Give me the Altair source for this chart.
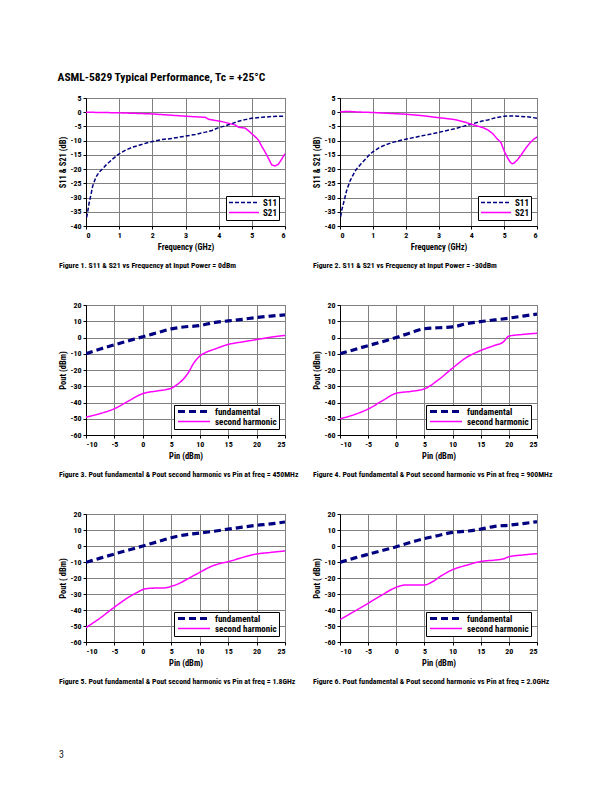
import altair as alt
import pandas as pd

FONT = "Roboto Condensed, Open Sans Condensed, sans-serif"
NAVY = "#000080"
MAGENTA = "#FF00FF"

PAGE_TITLE = "ASML-5829 Typical Performance, Tc = +25\u00b0C"
PAGE_NUMBER = ["3"]

# ---------------- Figure 1: S11 & S21 vs Frequency, Input Power = 0dBm ----------------
fig1_s11_freq = [0.02, 0.05, 0.1, 0.15, 0.2, 0.3, 0.4, 0.5, 0.6, 0.8, 1.0, 1.2, 1.4, 1.6, 1.8,
                 2.0, 2.3, 2.6, 3.0, 3.3, 3.6, 3.8, 4.0, 4.2, 4.4, 4.6, 4.8, 5.0, 5.3, 5.6, 6.0]
fig1_s11 = [-37.0, -35.0, -31.5, -29.0, -26.0, -22.8, -21.0, -19.9, -18.6, -16.5, -14.6, -13.3,
            -12.3, -11.6, -10.9, -10.3, -9.6, -9.2, -8.4, -7.8, -7.0, -6.4, -5.4, -4.8, -4.0,
            -3.2, -2.6, -2.1, -1.8, -1.5, -1.4]
fig1_s21_freq = [0.0, 0.5, 1.0, 1.5, 2.0, 2.5, 3.0, 3.3, 3.6, 3.7, 3.9, 4.1, 4.3, 4.5, 4.6, 4.8,
                 4.9, 5.0, 5.1, 5.2, 5.3, 5.4, 5.5, 5.6, 5.7, 5.8, 5.9, 6.0]
fig1_s21 = [0.0, -0.1, -0.2, -0.4, -0.6, -1.0, -1.4, -1.6, -1.8, -2.5, -2.9, -3.3, -3.9, -4.5,
            -5.3, -5.6, -6.5, -7.6, -8.6, -9.8, -12.0, -14.0, -16.2, -18.5, -18.9, -18.3, -16.5, -14.6]

# ---------------- Figure 2: S11 & S21 vs Frequency, Input Power = -30dBm ----------------
fig2_s11_freq = [0.02, 0.05, 0.1, 0.15, 0.2, 0.3, 0.4, 0.5, 0.65, 0.8, 0.9, 1.0, 1.2, 1.4, 1.6,
                 1.8, 2.0, 2.5, 3.0, 3.5, 4.0, 4.3, 4.5, 4.75, 5.0, 5.2, 5.4, 5.7, 6.0]
fig2_s11 = [-36.7, -34.5, -32.3, -30.0, -27.6, -24.3, -22.0, -20.0, -18.0, -16.2, -14.9, -13.9,
            -12.4, -11.4, -10.6, -10.0, -9.5, -8.3, -7.1, -5.8, -4.2, -3.2, -2.7, -1.9, -1.4,
            -1.3, -1.4, -1.6, -2.1]
fig2_s21_freq = [0.0, 0.2, 0.5, 1.0, 1.5, 2.0, 2.5, 3.0, 3.3, 3.5, 3.75, 4.0, 4.2, 4.35, 4.5,
                 4.65, 4.8, 4.9, 5.0, 5.1, 5.2, 5.25, 5.3, 5.4, 5.5, 5.6, 5.7, 5.8, 5.9, 6.0]
fig2_s21 = [0.1, 0.3, 0.1, -0.1, -0.4, -0.7, -1.2, -1.9, -2.3, -2.6, -3.3, -4.2, -4.9, -5.4,
            -6.2, -7.5, -9.5, -10.6, -13.6, -16.0, -17.8, -18.1, -17.9, -16.8, -15.3, -13.6,
            -12.0, -10.6, -9.5, -8.7]

# ---------------- Figures 3-6: Pout vs Pin ----------------
pin_fund = [-10, -7.5, -5, -2.5, 0, 2.5, 5, 7.5, 10, 12.5, 15, 17.5, 20, 22.5, 25]

fig3_fund = [-10.0, -7.1, -4.5, -2.0, 0.5, 2.9, 5.3, 6.6, 7.3, 9.2, 10.2, 11.2, 12.3, 13.2, 13.9]
fig3_harm_pin = [-10, -7.5, -5, -2.5, 0, 2.5, 5, 6, 7, 8, 9, 10, 11, 12.5, 15, 17.5, 20, 22.5, 25]
fig3_harm = [-49.0, -46.8, -43.8, -39.0, -34.5, -32.9, -31.2, -29.0, -26.1, -21.6, -15.5, -11.5,
             -9.3, -7.3, -4.3, -2.7, -1.3, 0.2, 1.3]

fig4_fund = [-10.0, -7.5, -5.0, -2.6, 0.0, 2.9, 5.4, 6.0, 6.5, 8.5, 9.8, 10.8, 11.9, 13.2, 14.4]
fig4_harm_pin = [-10, -7.5, -5, -2.5, 0, 2.5, 5, 7.5, 10, 12.5, 15, 17.5, 19, 20, 22.5, 25]
fig4_harm = [-50.0, -47.5, -44.0, -39.0, -34.3, -33.2, -31.6, -26.0, -18.8, -12.2, -8.0, -4.8,
             -2.8, 0.8, 1.9, 2.6]

fig5_fund = [-10.2, -7.6, -5.0, -2.5, 0.0, 2.6, 5.2, 7.0, 8.1, 9.2, 10.5, 11.8, 12.9, 13.8, 15.0]
fig5_harm_pin = [-10, -7.5, -5, -2.5, -1, 0, 1, 2.5, 3.5, 5, 6.5, 8, 10, 12, 13.5, 15, 17.5,
                 20, 22.5, 25]
fig5_harm = [-51.0, -45.0, -38.2, -32.0, -29.0, -27.2, -26.5, -26.3, -26.3, -25.2, -23.2, -20.3,
             -16.5, -12.8, -11.0, -9.8, -7.2, -5.0, -4.0, -3.1]

fig6_fund = [-10.2, -7.6, -5.2, -2.8, -0.5, 2.2, 4.6, 6.6, 8.5, 9.3, 10.5, 12.3, 13.0, 14.0, 15.2]
fig6_harm_pin = [-10, -7.5, -5, -2.5, 0, 1.5, 3, 5, 6.5, 8, 10, 12.5, 15, 17.5, 19, 20, 22.5, 25]
fig6_harm = [-46.0, -41.0, -35.8, -30.5, -25.8, -24.4, -24.3, -24.3, -22.2, -18.6, -14.8, -12.0,
             -9.7, -8.8, -8.1, -6.7, -5.6, -4.8]

captions = [
    "Figure 1. S11 & S21 vs Frequency at Input Power = 0dBm",
    "Figure 2. S11 & S21 vs Frequency at Input Power = -30dBm",
    "Figure 3. Pout fundamental & Pout second harmonic vs Pin at freq = 450MHz",
    "Figure 4. Pout fundamental & Pout second harmonic vs Pin at freq = 900MHz",
    "Figure 5. Pout fundamental & Pout second harmonic vs Pin at freq = 1.8GHz",
    "Figure 6. Pout fundamental & Pout second harmonic vs Pin at freq = 2.0GHz",
]


def long_df(x1, y1, n1, x2, y2, n2):
    return pd.DataFrame({
        "x": list(x1) + list(x2),
        "y": list(y1) + list(y2),
        "series": [n1] * len(x1) + [n2] * len(x2),
    })


def panel(df, kind, caption, ytitle, width, height):
    if kind == "s":
        xdom, xvals, xtitle = [0, 6], list(range(0, 7)), "Frequency (GHz)"
        ydom, yvals = [-40, 5], list(range(-40, 6, 5))
        names = ["S11", "S21"]
        dashes = [[4, 2], [1, 0]]
        widths = [1.5, 1.5]
        interp = "linear"
        sym = 900
    else:
        xdom, xvals, xtitle = [-10, 25], list(range(-10, 26, 5)), "Pin (dBm)"
        ydom, yvals = [-60, 20], list(range(-60, 21, 10))
        names = ["fundamental", "second harmonic"]
        dashes = [[7, 4], [1, 0]]
        widths = [3.2, 1.5]
        interp = "monotone"
        sym = 1024

    leg = alt.Legend(
        title=None, orient="bottom-right", offset=6, fillColor="white",
        strokeColor="black", padding=2, symbolType="stroke", symbolSize=sym,
        clipHeight=9, labelFont=FONT, labelFontSize=9, labelFontWeight="bold",
        labelColor="black", rowPadding=0, labelOffset=3,
    )
    return alt.Chart(df).mark_line(interpolate=interp, clip=True).encode(
        x=alt.X("x:Q", scale=alt.Scale(domain=xdom, nice=False, zero=False),
                axis=alt.Axis(values=xvals, title=xtitle, labelExpr="'' + datum.value")),
        y=alt.Y("y:Q", scale=alt.Scale(domain=ydom, nice=False, zero=False),
                axis=alt.Axis(values=yvals, title=ytitle, labelExpr="'' + datum.value")),
        color=alt.Color("series:N", scale=alt.Scale(domain=names, range=[NAVY, MAGENTA]),
                        legend=leg),
        strokeDash=alt.StrokeDash("series:N", scale=alt.Scale(domain=names, range=dashes),
                                  legend=leg),
        strokeWidth=alt.StrokeWidth("series:N", scale=alt.Scale(domain=names, range=widths),
                                    legend=leg),
    ).properties(
        width=width, height=height,
        title=alt.TitleParams(text=caption, orient="bottom", anchor="start", frame="group",
                              dx=-27, offset=11, fontSize=7.8, fontWeight="bold", font=FONT,
                              color="black"),
    )


p1 = panel(long_df(fig1_s11_freq, fig1_s11, "S11", fig1_s21_freq, fig1_s21, "S21"),
           "s", captions[0], "S11 & S21 (dB)", 199, 128)
p2 = panel(long_df(fig2_s11_freq, fig2_s11, "S11", fig2_s21_freq, fig2_s21, "S21"),
           "s", captions[1], "S11 & S21 (dB)", 197, 128)
p3 = panel(long_df(pin_fund, fig3_fund, "fundamental", fig3_harm_pin, fig3_harm, "second harmonic"),
           "p", captions[2], "Pout (dBm)", 199, 130)
p4 = panel(long_df(pin_fund, fig4_fund, "fundamental", fig4_harm_pin, fig4_harm, "second harmonic"),
           "p", captions[3], "Pout (dBm)", 197, 130)
p5 = panel(long_df(pin_fund, fig5_fund, "fundamental", fig5_harm_pin, fig5_harm, "second harmonic"),
           "p", captions[4], "Pout ( dBm)", 199, 128)
p6 = panel(long_df(pin_fund, fig6_fund, "fundamental", fig6_harm_pin, fig6_harm, "second harmonic"),
           "p", captions[5], "Pout ( dBm)", 197, 128)

footer = alt.Chart(pd.DataFrame({"page": PAGE_NUMBER})).mark_text(
    align="left", baseline="middle", font=FONT, fontSize=10, color="#222"
).encode(text="page:N", x=alt.value(-27), y=alt.value(34)).properties(
    width=199, height=1, view=alt.ViewBackground(stroke="transparent"))

grid = alt.concat(p1, p2, p3, p4, p5, p6, footer, columns=2,
                  spacing={"row": 79, "column": 55}, bounds="flush").resolve_scale(
    color="independent", strokeDash="independent", strokeWidth="independent")

chart = grid.properties(
    title=alt.TitleParams(text=PAGE_TITLE, anchor="start", frame="bounds", fontSize=11.5,
                          fontWeight="bold", font=FONT, color="black", offset=10),
    padding={"left": 49, "top": 64, "right": 5, "bottom": 5},
).configure_view(
    stroke="#808080", strokeWidth=1
).configure_axis(
    domainColor="black", domainWidth=1, tickColor="black", tickSize=3,
    gridColor="#808080", gridWidth=1,
    labelFont=FONT, labelFontSize=8, labelFontWeight="bold", labelColor="black",
    labelPadding=2, titleFont=FONT, titleFontSize=8.5, titleFontWeight="bold",
    titleColor="black", titlePadding=3,
)

chart.save("out.html", embed_options={"renderer": "svg", "actions": False})
